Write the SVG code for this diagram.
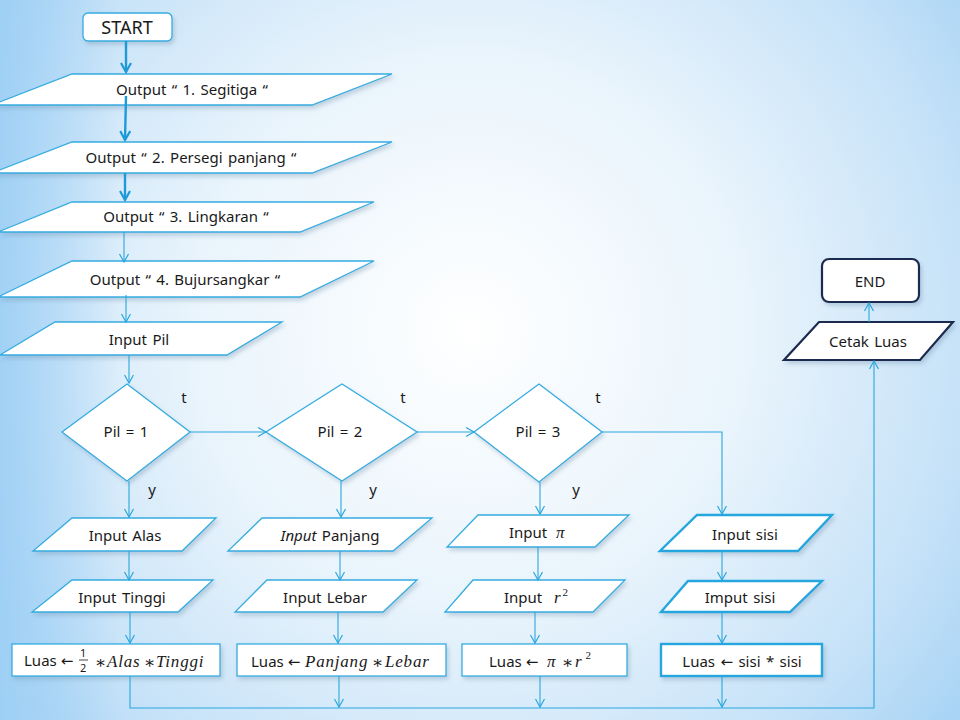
<svg xmlns="http://www.w3.org/2000/svg" width="960" height="720" viewBox="0 0 960 720">
<defs>
<radialGradient id="bg" cx="470" cy="330" r="620" gradientUnits="userSpaceOnUse">
<stop offset="0" stop-color="#ffffff"/>
<stop offset="0.45" stop-color="#e9f4fc"/>
<stop offset="0.8" stop-color="#c6e2f8"/>
<stop offset="1" stop-color="#a9d4f5"/>
</radialGradient>
<linearGradient id="lft" x1="0" y1="0" x2="1" y2="0">
<stop offset="0" stop-color="#9ccff5" stop-opacity="0.9"/>
<stop offset="1" stop-color="#9ccff5" stop-opacity="0"/>
</linearGradient>
<filter id="sh" x="-10%" y="-20%" width="120%" height="150%">
<feDropShadow dx="2" dy="3" stdDeviation="2" flood-color="#6f8fa8" flood-opacity="0.35"/>
</filter>
<marker id="ah" markerUnits="userSpaceOnUse" markerWidth="12" markerHeight="12" refX="9" refY="5" orient="auto">
<path d="M1,0.5 L9,5 L1,9.5" fill="none" stroke="#2aa7dd" stroke-width="1.2"/>
</marker>
<marker id="ahb" markerUnits="userSpaceOnUse" markerWidth="14" markerHeight="14" refX="10" refY="6" orient="auto">
<path d="M1,1 L10,6 L1,11" fill="none" stroke="#1e9ad8" stroke-width="2.2"/>
</marker>
<style>
.s{fill:#fff;stroke:#35ace0;stroke-width:1.3;filter:url(#sh)}
.sk{fill:#fff;stroke:#25a6df;stroke-width:2.4;filter:url(#sh)}
.sd{fill:#fff;stroke:#1c2a4f;stroke-width:2.2;filter:url(#sh)}
.t{font-family:"Noto Sans","DejaVu Sans",sans-serif;font-size:15px;fill:#1a1a1a;text-anchor:middle;word-spacing:1.5px}
.ts{font-family:"Noto Sans","DejaVu Sans",sans-serif;font-size:15px;fill:#1a1a1a}
.m{font-family:"Liberation Serif","DejaVu Serif",serif;font-style:italic;font-size:17px;fill:#1a1a1a;letter-spacing:0.8px}
.c{fill:none;stroke:#2aa7dd;stroke-width:1.1}
.cb{fill:none;stroke:#1e9ad8;stroke-width:2.4}
</style>
</defs>
<rect width="960" height="720" fill="url(#bg)"/>
<rect width="120" height="720" fill="url(#lft)"/>

<g id="start"><rect class="s" x="83" y="13" width="89" height="28" rx="5"/><text class="t" x="127" y="34" style="font-size:18px">START</text></g>
<g id="out1"><polygon class="s" points="72,74 392,74 312,105 -8,105"/><text class="t" x="192" y="95">Output “ 1. Segitiga “</text></g>
<g id="out2"><polygon class="s" points="72,142 392,142 312,173 -8,173"/><text class="t" x="191" y="163">Output “ 2. Persegi panjang “</text></g>
<g id="out3"><polygon class="s" points="72,202 374,202 300,232 -2,232"/><text class="t" x="186" y="222">Output “ 3. Lingkaran “</text></g>
<g id="out4"><polygon class="s" points="72,261 374,261 300,297 -2,297"/><text class="t" x="185" y="285">Output “ 4. Bujursangkar “</text></g>
<g id="inpil"><polygon class="s" points="55,322 282,322 227,355 0,355"/><text class="t" x="139" y="345">Input Pil</text></g>

<g id="d1"><polygon class="s" points="127,384 190,432 127,481 62,432"/><text class="t" x="126" y="437">Pil = 1</text></g>
<g id="d2"><polygon class="s" points="342,384 417,432 342,481 266,432"/><text class="t" x="340" y="437">Pil = 2</text></g>
<g id="d3"><polygon class="s" points="539,384 602,432 539,482 474,432"/><text class="t" x="538" y="437">Pil = 3</text></g>

<g id="inalas"><polygon class="s" points="72,518 216,518 182,551 33,551"/><text class="t" x="125" y="541">Input Alas</text></g>
<g id="inpanjang"><polygon class="s" points="262,518 432,518 393,551 228,551"/><text class="t" x="330" y="541"><tspan font-style="italic">Input</tspan> Panjang</text></g>
<g id="inpi"><polygon class="s" points="478,515 629,515 595,547 447,547"/><text class="ts" x="509" y="538">Input</text><text class="m" x="556" y="538">π</text></g>
<g id="insisi"><polygon class="sk" points="697,515 832,515 798,551 660,551"/><text class="t" x="745" y="540">Input sisi</text></g>

<g id="intinggi"><polygon class="s" points="72,580 213,580 178,612 32,612"/><text class="t" x="122" y="603">Input  Tinggi</text></g>
<g id="inlebar"><polygon class="s" points="267,580 417,580 383,612 235,612"/><text class="t" x="325" y="603">Input  Lebar</text></g>
<g id="inr"><polygon class="s" points="473,580 625,580 593,612 445,612"/><text class="ts" x="504" y="603">Input</text><text class="m" x="554" y="603">r<tspan font-style="normal" font-size="11" dx="1" dy="-7">2</tspan></text></g>
<g id="imsisi"><polygon class="sk" points="688,581 822,581 790,612 661,612"/><text class="t" x="740" y="603">Imput sisi</text></g>

<g id="luas1"><rect class="s" x="12" y="644" width="208" height="32"/>
<text class="ts" x="24" y="666">Luas ←</text>
<text class="ts" x="80" y="657" style="font-size:11px">1</text>
<line x1="79" y1="660" x2="88" y2="660" stroke="#1a1a1a" stroke-width="0.8"/>
<text class="ts" x="80" y="672" style="font-size:11px">2</text>
<text class="m" x="95" y="668" font-style="normal">∗</text>
<text class="m" x="107" y="667">Alas</text>
<text class="m" x="144" y="668" font-style="normal">∗</text>
<text class="m" x="156" y="667">Tinggi</text></g>
<g id="luas2"><rect class="s" x="237" y="644" width="209" height="32"/>
<text class="ts" x="251" y="667">Luas ←</text>
<text class="m" x="305" y="667">Panjang</text>
<text class="m" x="372" y="668" font-style="normal">∗</text>
<text class="m" x="385" y="667">Lebar</text></g>
<g id="luas3"><rect class="s" x="462" y="644" width="165" height="32"/>
<text class="ts" x="489" y="667">Luas ←</text>
<text class="m" x="547" y="667">π</text>
<text class="m" x="562" y="668" font-style="normal">∗</text>
<text class="m" x="575" y="667">r<tspan font-style="normal" font-size="11" dx="3" dy="-8">2</tspan></text></g>
<g id="luas4"><rect class="sk" x="661" y="644" width="161" height="32"/><text class="t" x="742" y="667">Luas ← sisi * sisi</text></g>

<g id="cetak"><polygon class="sd" points="819,322 953,322 920,360 784,360"/><text class="t" x="868" y="347">Cetak Luas</text></g>
<g id="end"><rect class="sd" x="822" y="259" width="97" height="43" rx="7"/><text class="t" x="870" y="287">END</text></g>

<g id="connectors">
<line class="cb" x1="126" y1="41" x2="126" y2="72" marker-end="url(#ahb)"/>
<line class="cb" x1="126" y1="96" x2="125" y2="140" marker-end="url(#ahb)"/>
<line class="cb" x1="125" y1="173" x2="125" y2="200" marker-end="url(#ahb)"/>
<line class="c" x1="124" y1="232" x2="124" y2="262" marker-end="url(#ah)"/>
<line class="c" x1="126" y1="295" x2="126" y2="322" marker-end="url(#ah)"/>
<line class="c" x1="129" y1="355" x2="129" y2="383" marker-end="url(#ah)"/>
<line class="c" x1="190" y1="432" x2="266" y2="432" marker-end="url(#ah)"/>
<line class="c" x1="417" y1="432" x2="474" y2="432" marker-end="url(#ah)"/>
<polyline class="c" points="602,432 722,432 722,514" marker-end="url(#ah)"/>
<line class="c" x1="129" y1="481" x2="129" y2="517" marker-end="url(#ah)"/>
<line class="c" x1="341" y1="481" x2="341" y2="517" marker-end="url(#ah)"/>
<line class="c" x1="540" y1="482" x2="540" y2="514" marker-end="url(#ah)"/>
<line class="c" x1="129" y1="551" x2="129" y2="580" marker-end="url(#ah)"/>
<line class="c" x1="340" y1="551" x2="340" y2="580" marker-end="url(#ah)"/>
<line class="c" x1="538" y1="547" x2="538" y2="580" marker-end="url(#ah)"/>
<line class="c" x1="722" y1="551" x2="722" y2="580" marker-end="url(#ah)"/>
<line class="c" x1="130" y1="612" x2="130" y2="643" marker-end="url(#ah)"/>
<line class="c" x1="338" y1="612" x2="338" y2="643" marker-end="url(#ah)"/>
<line class="c" x1="535" y1="612" x2="535" y2="643" marker-end="url(#ah)"/>
<line class="c" x1="722" y1="612" x2="722" y2="643" marker-end="url(#ah)"/>
<line class="c" x1="339" y1="676" x2="339" y2="707" marker-end="url(#ah)"/>
<line class="c" x1="540" y1="676" x2="540" y2="707" marker-end="url(#ah)"/>
<line class="c" x1="722" y1="676" x2="722" y2="707" marker-end="url(#ah)"/>
<polyline class="c" points="130,676 130,708 874,708 874,361" marker-end="url(#ah)"/>
<line class="c" x1="869" y1="322" x2="869" y2="303" marker-end="url(#ah)"/>
</g>
<g id="labels">
<text class="t" x="184" y="403">t</text>
<text class="t" x="403" y="403">t</text>
<text class="t" x="598" y="403">t</text>
<text class="t" x="152" y="495">y</text>
<text class="t" x="373" y="495">y</text>
<text class="t" x="576" y="495">y</text>
</g>
</svg>
